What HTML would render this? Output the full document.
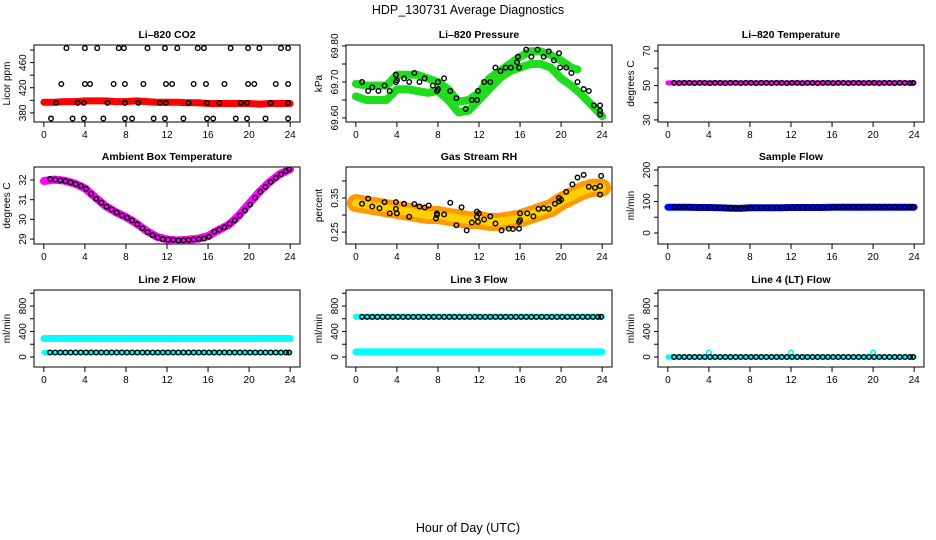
<!DOCTYPE html>
<html><head><meta charset="utf-8"><style>
body{margin:0;background:#fff}
svg{display:block;font-family:"Liberation Sans",sans-serif}
</style></head><body>
<svg id="chart" width="936" height="540" viewBox="0 0 936 540">
<text x="468" y="14" text-anchor="middle" font-size="12.5">HDP_130731  Average Diagnostics</text>
<text x="468" y="532" text-anchor="middle" font-size="12.5">Hour of Day (UTC)</text>
</svg>
<script>
const xTicks=[0,4,8,12,16,20,24];
const hrs=[0,1,2,3,4,5,6,7,8,9,10,11,12,13,14,15,16,17,18,19,20,21,22,23,24];
const circleHours=[0.6,1.1,1.6,2.1,2.6,3.1,3.6,4.1,4.6,5.1,5.6,6.1,6.6,7.1,7.6,8.1,8.6,9.1,9.6,10.1,10.6,11.1,11.6,12.1,12.6,13.1,13.6,14.1,14.6,15.1,15.6,16.1,16.6,17.1,17.6,18.1,18.6,19.1,19.6,20.1,20.6,21.1,21.6,22.1,22.6,23.1,23.6,23.9];
// CO2
const co2Band=[397,397,398,398,399,399,399,398,398,399,398,397,397,397,396,396,395,395,395,395,395,394,395,395,395];
const co2X=[2.2,4,5.2,7.3,7.8,10.1,11.8,13,15,15.6,18.2,19.9,21,23.1,23.8,1.7,4,4.5,6.8,7.9,9.7,11.9,12.5,14.6,15.8,17.6,19.9,20.5,22.6,23.8,1.2,3.3,3.9,6.2,7.9,9.2,11.3,11.9,14.1,15.9,17.1,19.2,19.8,22.1,23.8,0.7,2.8,3.9,5.8,7.9,8.6,10.7,11.8,13.6,15.9,16.5,18.7,19.8,21.6,23.8];
const co2Y=[483,483,483,483,483,483,483,483,483,483,483,483,483,483,483,426,426,426,426,426,426,426,426,426,426,426,426,426,426,426,396,396,396,396,396,396,396,396,396,396,396,396,396,396,396,371,371,371,371,371,371,371,371,371,371,371,371,371,371,371];
// Pressure
const presUpper=[69.695,69.69,69.69,69.69,69.72,69.72,69.72,69.71,69.70,69.68,69.645,69.65,69.67,69.71,69.73,69.75,69.77,69.785,69.785,69.775,69.76,69.74,69.735];
const presUpperHrs=[0,1,2,3,4,5,6,7,8,9,10,11,12,13,14,15,16,17,18,19,20,21,21.6];
const presLower=[69.66,69.65,69.65,69.65,69.68,69.68,69.675,69.67,69.675,69.65,69.615,69.62,69.65,69.68,69.71,69.73,69.74,69.75,69.75,69.74,69.71,69.69,69.665,69.635,69.605];
const presX=[0.6,1.2,1.6,2.2,2.8,3.3,3.9,3.9,4,4.7,5.2,5.7,6.2,6.7,7.5,7.9,8,8,8.6,9.2,9.8,10.7,11.3,11.8,11.9,12.5,13.1,13.6,14.1,14.6,15.1,15.7,15.8,15.9,16.6,17.1,17.7,18.3,18.8,19.3,19.8,19.9,20.5,21.0,21.6,22.2,22.7,23.2,23.8,23.8,23.8];
const presY=[69.70,69.675,69.685,69.675,69.69,69.675,69.72,69.70,69.705,69.71,69.70,69.725,69.70,69.71,69.69,69.675,69.70,69.68,69.71,69.675,69.655,69.625,69.65,69.65,69.675,69.70,69.70,69.74,69.73,69.74,69.74,69.755,69.77,69.74,69.79,69.77,69.79,69.77,69.785,69.76,69.78,69.74,69.74,69.725,69.70,69.68,69.675,69.635,69.635,69.62,69.61];
// Li-820 temperature
const tempBand=[51.5,51.5,51.5,51.5,51.5,51.5,51.5,51.5,51.5,51.5,51.5,51.5,51.5,51.5,51.5,51.5,51.5,51.5,51.5,51.5,51.5,51.5,51.5,51.5,51.5];
const tempVals=[51.5,51.4,51.5,51.5,51.4,51.5,51.5,51.4,51.5,51.5,51.4,51.5,51.5,51.4,51.5,51.5,51.4,51.5,51.5,51.4,51.5,51.5,51.4,51.5,51.5,51.4,51.5,51.5,51.4,51.5,51.5,51.4,51.5,51.5,51.4,51.5,51.5,51.4,51.5,51.5,51.4,51.5,51.5,51.4,51.5,51.5,51.4,51.5];
// Ambient
const ambBand=[31.95,32.02,31.97,31.82,31.58,31.12,30.68,30.37,30.12,29.8,29.42,29.12,28.98,28.93,28.97,29.02,29.15,29.45,29.72,30.2,30.8,31.4,31.9,32.3,32.55];
const ambVals=[32.05,32.02,31.98,31.94,31.88,31.8,31.7,31.55,31.3,31.05,30.85,30.65,30.5,30.35,30.2,30.08,29.95,29.75,29.55,29.35,29.2,29.08,29.0,28.98,28.96,28.93,28.93,28.96,28.98,29.0,29.03,29.12,29.38,29.48,29.6,29.78,29.95,30.2,30.45,30.75,31.1,31.4,31.65,31.9,32.1,32.3,32.45,32.55];
// RH
const rhBand=[0.335,0.33,0.325,0.32,0.315,0.31,0.305,0.30,0.30,0.295,0.29,0.285,0.285,0.28,0.28,0.285,0.29,0.30,0.31,0.32,0.34,0.355,0.37,0.38,0.38];
const rhX=[0.6,1.2,1.6,2.3,2.8,3.3,3.9,3.9,4,4.7,5.2,5.7,6.2,6.7,7.1,7.9,7.9,7.8,8.6,9.2,9.8,10.3,10.8,11.3,11.8,11.8,12,11.9,12.5,13.1,13.6,14.2,14.9,15.3,15.9,15.9,16,16,16.7,17.3,17.8,18.3,18.8,19.4,19.8,19.8,20,20.5,21.1,21.6,22.2,22.7,23.3,23.8,23.8,23.9];
const rhY=[0.333,0.348,0.325,0.32,0.338,0.305,0.338,0.318,0.305,0.333,0.295,0.332,0.325,0.322,0.328,0.305,0.3,0.29,0.302,0.336,0.27,0.323,0.255,0.278,0.31,0.295,0.305,0.28,0.287,0.296,0.275,0.255,0.26,0.259,0.26,0.28,0.305,0.285,0.305,0.296,0.318,0.32,0.318,0.333,0.35,0.34,0.345,0.368,0.39,0.41,0.418,0.383,0.38,0.385,0.36,0.415];
// Sample flow
const sampBand=[82,82,82,81,81,80,79,78,80,80,80,80,81,81,81,81,82,82,82,82,82,82,82,82,82];
const sampVals=[82,82,82,82,81,81,81,81,80,80,79,79,78,78,78,79,80,80,80,80,80,80,80,81,81,81,81,81,81,81,81,82,82,82,82,82,82,82,83,82,82,82,82,82,82,82,82,82];
// Line 2
const l2Cyan=[290,290,290,290,290,290,290,290,290,290,290,290,290,290,290,290,290,290,290,290,290,290,290,290,290];
const l2Vals=[70,70,70,70,70,70,70,70,70,70,70,70,70,70,70,70,70,70,70,70,70,70,70,70,70,70,70,70,70,70,70,70,70,70,70,70,70,70,70,70,70,70,70,70,70,70,70,70];
// Line 3
const l3CyanHigh=[630,630,630,630,630,630,630,630,630,630,630,630,630,630,630,630,630,630,630,630,630,630,630,630,630];
const l3CyanLow=[80,80,80,80,80,80,80,80,80,80,80,80,80,80,80,80,80,80,80,80,80,80,80,80,80];
const l3Vals=[630,630,630,630,630,630,630,630,630,630,630,630,630,630,630,630,630,630,630,630,630,630,630,630,630,630,630,630,630,630,630,630,630,630,630,630,630,630,630,630,630,630,630,630,630,630,630,630];
// Line 4
const l4Cyan=[0,0,0,0,0,0,0,0,0,0,0,0,0,0,0,0,0,0,0,0,0,0,0,0,0];
const l4SpikeX=[4,12,20];
const l4SpikeY=[70,70,70];
const l4Vals=[0,0,0,0,0,0,0,0,0,0,0,0,0,0,0,0,0,0,0,0,0,0,0,0,0,0,0,0,0,0,0,0,0,0,0,0,0,0,0,0,0,0,0,0,0,0,0,0];

const svg=document.getElementById('chart');
const NS='http://www.w3.org/2000/svg';
function mk(tag,attrs,parent){const e=document.createElementNS(NS,tag);for(const k in attrs)e.setAttribute(k,attrs[k]);(parent||svg).appendChild(e);return e;}
const rowTops=[45,167,290],H=77;

function panel(col,row,title,ytitle,lo,hi,yticks,ylabels,name){
  const ox=col*312,top=rowTops[row],bot=top+H,L=ox+34,R=ox+300;
  const g=mk('g',{});
  
  
  const xs=h=>L+(h+0.96)/25.92*266;
  const ys=v=>bot-(v-lo)/(hi-lo)*H;
  const t=mk('text',{x:(L+R)/2,y:top-7,'text-anchor':'middle','font-size':10.5,'font-weight':'bold'},g);t.textContent=title;
  
  
  const bx=mk('rect',{x:L,y:top,width:R-L,height:H,fill:'none',stroke:'#000','stroke-width':1},g);
  
  
  xTicks.forEach(v=>{const x=xs(v);mk('line',{x1:x,y1:bot,x2:x,y2:bot+5,stroke:'#000'},g);
    const tl=mk('text',{x:x,y:bot+16,'text-anchor':'middle','font-size':10},g);tl.textContent=v;
    
    });
  yticks.forEach(v=>{const y=ys(v);mk('line',{x1:L-4,y1:y,x2:L,y2:y,stroke:'#000'},g);});
  ylabels.forEach(v=>{const y=ys(v);const tl=mk('text',{x:0,y:0,'text-anchor':'middle','font-size':10,transform:`translate(${L-8},${y}) rotate(-90)`},g);tl.textContent=v;
    
    });
  const yt=mk('text',{x:0,y:0,'text-anchor':'middle','font-size':10,transform:`translate(${ox+10},${(top+bot)/2}) rotate(-90)`},g);yt.textContent=ytitle;
  
  
  const clip='clip'+name;const cp=mk('clipPath',{id:clip},g);mk('rect',{x:L,y:top,width:R-L,height:H},cp);
  const pg=mk('g',{'clip-path':`url(#${clip})`},g);
  return {xs,ys,g:pg};
}
function band(p,hx,vals,color,w,nm){
  const d=hx.map((h,i)=>(i?'L':'M')+p.xs(h).toFixed(1)+','+p.ys(vals[i]).toFixed(1)).join('');
  const e=mk('path',{d:d,fill:'none',stroke:color,'stroke-width':w,'stroke-linejoin':'round','stroke-linecap':'round'},p.g);
  
  
  return e;
}
function circles(p,xv,yv,nm,color){
  xv.forEach((h,i)=>{const c=mk('circle',{cx:p.xs(h),cy:p.ys(yv[i]),r:2.3,fill:'none',stroke:color||'#000','stroke-width':1.4},p.g);
    
    });
}
let p;
p=panel(0,0,'Li\u2013820 CO2','Licor ppm',365.5,488,[380,400,420,440,460,480],[380,420,460],'co2');
band(p,hrs,co2Band,'#ff0000',7,'co2-band');circles(p,co2X,co2Y,'co2-point');
p=panel(1,0,'Li\u2013820 Pressure','kPa',69.5887,69.8028,[69.60,69.65,69.70,69.75,69.80],['69.60','69.70','69.80'],'pressure');
band(p,presUpperHrs,presUpper,'#1fdc1f',8,'pressure-upper-band');band(p,hrs,presLower,'#1fdc1f',8,'pressure-lower-band');circles(p,presX,presY,'pressure-point');
p=panel(2,0,'Li\u2013820 Temperature','degrees C',28.8,73.5,[30,40,50,60,70],[30,50,70],'temperature');
band(p,hrs,tempBand,'#ff00ff',5,'temperature-band');circles(p,circleHours,tempVals,'temperature-point');
p=panel(0,1,'Ambient Box Temperature','degrees C',28.75,32.66,[29,30,31,32],[29,30,31,32],'ambient');
band(p,hrs,ambBand,'#ff00ff',8,'ambient-band');circles(p,circleHours,ambVals,'ambient-point');
p=panel(1,1,'Gas Stream RH','percent',0.215,0.441,[0.25,0.30,0.35,0.40],['0.25','0.35'],'rh');
band(p,hrs,rhBand,'#ff9900',18,'rh-band');band(p,hrs,rhBand,'#ffd000',8,'rh-band-inner');circles(p,rhX,rhY,'rh-point');
p=panel(2,1,'Sample Flow','ml/min',-35,209.5,[0,50,100,150,200],[0,100,200],'sample-flow');
band(p,hrs,sampBand,'#0000ff',7,'sample-flow-band');circles(p,circleHours,sampVals,'sample-flow-point');
p=panel(0,2,'Line 2 Flow','ml/min',-157,1051,[0,200,400,600,800,1000],[0,400,800],'line2');
band(p,hrs,l2Cyan,'#00ffff',7,'line2-cyan-band');band(p,hrs,l2Vals.slice(0,25),'#00ffff',5,'line2-low-band');circles(p,circleHours,l2Vals,'line2-point');
p=panel(1,2,'Line 3 Flow','ml/min',-157,1051,[0,200,400,600,800,1000],[0,400,800],'line3');
band(p,hrs,l3CyanHigh,'#00ffff',6,'line3-high-band');band(p,hrs,l3CyanLow,'#00ffff',7,'line3-low-band');circles(p,circleHours,l3Vals,'line3-point');
p=panel(2,2,'Line 4 (LT) Flow','ml/min',-157,1051,[0,200,400,600,800,1000],[0,400,800],'line4');
band(p,hrs,l4Cyan,'#00ffff',5,'line4-band');circles(p,l4SpikeX,l4SpikeY,'line4-spike','#00e5e5');circles(p,circleHours,l4Vals,'line4-point');
</script>
</body></html>
